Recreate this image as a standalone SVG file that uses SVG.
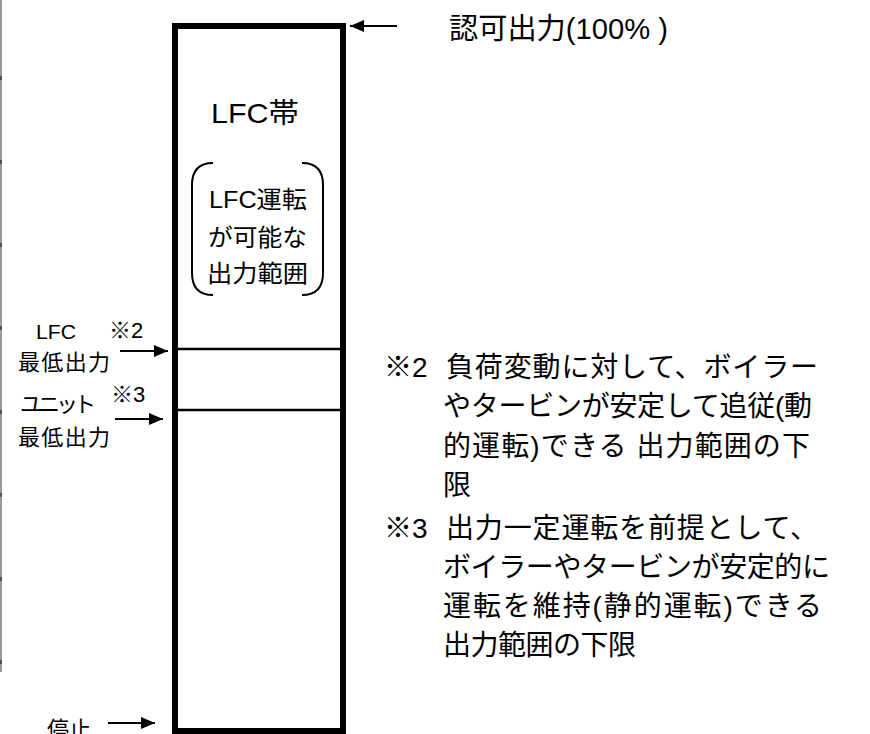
<svg xmlns="http://www.w3.org/2000/svg" width="870" height="734" viewBox="0 0 870 734">
<defs>
<marker id="ah" markerUnits="userSpaceOnUse" markerWidth="14" markerHeight="12" refX="14" refY="6" orient="auto"><path d="M0,0 L14,6 L0,12 Z" fill="#000"/></marker>
</defs>
<style>
text{font-family:"Liberation Sans","Noto Sans CJK JP",sans-serif;fill:#000}
.conn{stroke:#000;stroke-width:2;fill:none;marker-end:url(#ah)}
.lvl{stroke:#000;stroke-width:2.5}
.brk{stroke:#000;stroke-width:2;fill:none}
.note{font-size:28px}
.lbl{font-size:22px}
.tick{fill:#555}
</style>
<rect width="870" height="734" fill="#fff"/>
<g id="edge">
<line x1="1" y1="0" x2="1" y2="672" stroke="#9a9a9a" stroke-width="2"/>
<rect class="tick" x="0" y="76" width="2" height="4"/>
<rect class="tick" x="0" y="160" width="2" height="4"/>
<rect class="tick" x="0" y="243" width="2" height="4"/>
<rect class="tick" x="0" y="326" width="2" height="4"/>
<rect class="tick" x="0" y="410" width="2" height="4"/>
<rect class="tick" x="0" y="493" width="2" height="4"/>
<rect class="tick" x="0" y="577" width="2" height="4"/>
<rect class="tick" x="0" y="660" width="2" height="4"/>
</g>
<g id="band">
<rect x="175" y="26" width="168" height="705" fill="#fff" stroke="#000" stroke-width="6"/>
<line class="lvl" x1="178" y1="349" x2="340" y2="349"/>
<line class="lvl" x1="178" y1="410" x2="340" y2="410"/>
<text x="211" y="123" font-size="28" textLength="88" lengthAdjust="spacingAndGlyphs">LFC帯</text>
</g>
<g id="range">
<path class="brk" d="M213,163 Q192,163 192,185 L192,273 Q192,295 213,295"/>
<path class="brk" d="M302,163 Q323,163 323,185 L323,273 Q323,295 302,295"/>
<text x="209" y="208" font-size="24" textLength="98" lengthAdjust="spacingAndGlyphs">LFC運転</text>
<text x="208" y="246" font-size="24" textLength="99" lengthAdjust="spacingAndGlyphs">が可能な</text>
<text x="207" y="282" font-size="24" textLength="101" lengthAdjust="spacingAndGlyphs">出力範囲</text>
</g>
<g id="top-label">
<text x="449" y="39" font-size="29" textLength="219" lengthAdjust="spacingAndGlyphs">認可出力(100% )</text>
</g>
<g id="lfc-min">
<text x="36" y="339" font-size="21" textLength="40" lengthAdjust="spacingAndGlyphs">LFC</text>
<text class="lbl" x="109" y="338">※2</text>
<text class="lbl" x="18" y="370" textLength="92" lengthAdjust="spacing">最低出力</text>
</g>
<g id="unit-min">
<text class="lbl" x="20" y="412" textLength="76" lengthAdjust="spacing">ユニット</text>
<text class="lbl" x="111" y="402">※3</text>
<text class="lbl" x="18" y="445" textLength="92" lengthAdjust="spacing">最低出力</text>
</g>
<g id="stop">
<text class="lbl" x="47" y="737" textLength="44" lengthAdjust="spacing">停止</text>
</g>
<g id="connectors">
<line class="conn" x1="397" y1="26" x2="350" y2="26"/>
<line class="conn" x1="120" y1="351" x2="168" y2="351"/>
<line class="conn" x1="115" y1="419" x2="163" y2="419"/>
<line class="conn" x1="108" y1="723" x2="155" y2="723"/>
</g>
<g id="notes">
<text class="note" x="384" y="377">※2</text>
<text class="note" x="446" y="377" textLength="372" lengthAdjust="spacing">負荷変動に対して、ボイラー</text>
<text class="note" x="443" y="416" textLength="369" lengthAdjust="spacing">やタービンが安定して追従(動</text>
<text class="note" x="443" y="456" textLength="367" lengthAdjust="spacing">的運転)できる 出力範囲の下</text>
<text class="note" x="443" y="495">限</text>
<text class="note" x="384" y="538">※3</text>
<text class="note" x="446" y="538" textLength="372" lengthAdjust="spacing">出力一定運転を前提として、</text>
<text class="note" x="443" y="577" textLength="387" lengthAdjust="spacing">ボイラーやタービンが安定的に</text>
<text class="note" x="443" y="616" textLength="379" lengthAdjust="spacing">運転を維持(静的運転)できる</text>
<text class="note" x="443" y="655" textLength="193" lengthAdjust="spacing">出力範囲の下限</text>
</g>
</svg>
